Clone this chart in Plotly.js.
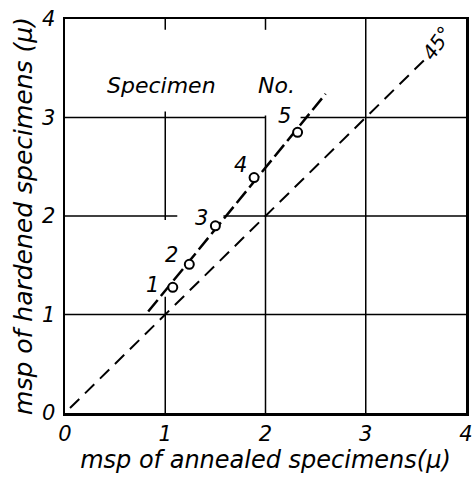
<!DOCTYPE html>
<html>
<head>
<meta charset="utf-8">
<script src="https://cdn.plot.ly/plotly-3.0.1.min.js"></script>
<style>html,body{margin:0;padding:0;background:#fff}#chart{width:472px;height:477px}</style>
</head>
<body>
<div id="chart"></div>
<script>
// Data
const specimenNo = ['1', '2', '3', '4', '5'];
const annealed = [1.075, 1.24, 1.50, 1.886, 2.32];
const hardened = [1.276, 1.51, 1.90, 2.39, 2.85];
const fitX = [0.83, 2.60];
const fitY = [1.03, 3.24];
const refX = [0.05, 3.60];
const refY = [0.05, 3.60];
const tickVals = [0, 1, 2, 3, 4];
const tickText = ['0', '1', '2', '3', '4'];

const FONT = 'DejaVu Sans, Liberation Sans, sans-serif';

// label offsets (px) for specimen numbers
const labelShift = [[-20, 2], [-18, 9], [-14, 8], [-14, 13], [-13, 16]];

const traces = [
  {x: refX, y: refY, mode: 'lines', line: {color: '#000', width: 2, dash: '13px,8px'}, hoverinfo: 'skip'},
  {x: fitX, y: fitY, mode: 'lines', line: {color: '#000', width: 2.5, dash: '15px,5px'}, hoverinfo: 'skip'},
  {x: annealed, y: hardened, mode: 'markers',
   marker: {symbol: 'circle', size: 9, color: '#fff', line: {color: '#000', width: 2}}}
];

// grid segments (with gaps like the original)
const gridSegs = [
  [0, 1, 4, 1],
  [0, 2, 1.12, 2], [1.58, 2, 4, 2],
  [0, 3, 2, 3], [2.35, 3, 4, 3],
  [1, 0, 1, 1.18], [1, 1.96, 1, 3.06], [1, 3.89, 1, 4],
  [2, 0, 2, 3.02], [2, 3.89, 2, 4],
  [3, 0, 3, 4]
];
const shapes = gridSegs.map(s => ({type: 'line', xref: 'x', yref: 'y',
  x0: s[0], y0: s[1], x1: s[2], y1: s[3], line: {color: '#000', width: 1.5}, layer: 'below'}));

const annotations = specimenNo.map((t, i) => ({
  x: annealed[i], y: hardened[i], text: t, showarrow: false,
  xshift: labelShift[i][0], yshift: labelShift[i][1],
  font: {family: FONT, size: 21, style: 'italic', color: '#000'}
}));
annotations.push({x: 0.96, y: 3.33, text: 'Specimen', showarrow: false,
  font: {family: FONT, size: 22, style: 'italic', color: '#000'}});
annotations.push({x: 2.11, y: 3.33, text: 'No.', showarrow: false,
  font: {family: FONT, size: 22, style: 'italic', color: '#000'}});
annotations.push({x: 3.71, y: 3.76, text: '45°', showarrow: false, textangle: -55,
  font: {family: FONT, size: 20, style: 'italic', color: '#000'}});

const layout = {
  width: 472, height: 477,
  margin: {l: 65, r: 6, t: 19, b: 64},
  paper_bgcolor: '#fff', plot_bgcolor: '#fff',
  showlegend: false,
  xaxis: {range: [0, 4], tickvals: tickVals, ticktext: tickText, showgrid: false, zeroline: false,
    showline: true, mirror: true, linecolor: '#000', linewidth: 2.5, ticks: '',
    ticklabeloverflow: 'allow',
    tickfont: {family: FONT, size: 21, style: 'italic', color: '#000'},
    title: {text: 'msp of annealed specimens(μ)', standoff: 2,
      font: {family: FONT, size: 24, style: 'italic', color: '#000'}}},
  yaxis: {range: [0, 4], tickvals: tickVals, ticktext: tickText, showgrid: false, zeroline: false,
    showline: true, mirror: true, linecolor: '#000', linewidth: 2.5, ticks: '',
    ticklabelstandoff: 3, ticklabeloverflow: 'allow',
    tickfont: {family: FONT, size: 21, style: 'italic', color: '#000'},
    title: {text: 'msp of hardened specimens (μ)', standoff: 2,
      font: {family: FONT, size: 25, style: 'italic', color: '#000'}}},
  shapes: shapes,
  annotations: annotations
};

Plotly.newPlot('chart', traces, layout, {displayModeBar: false, staticPlot: true});
</script>
</body>
</html>
